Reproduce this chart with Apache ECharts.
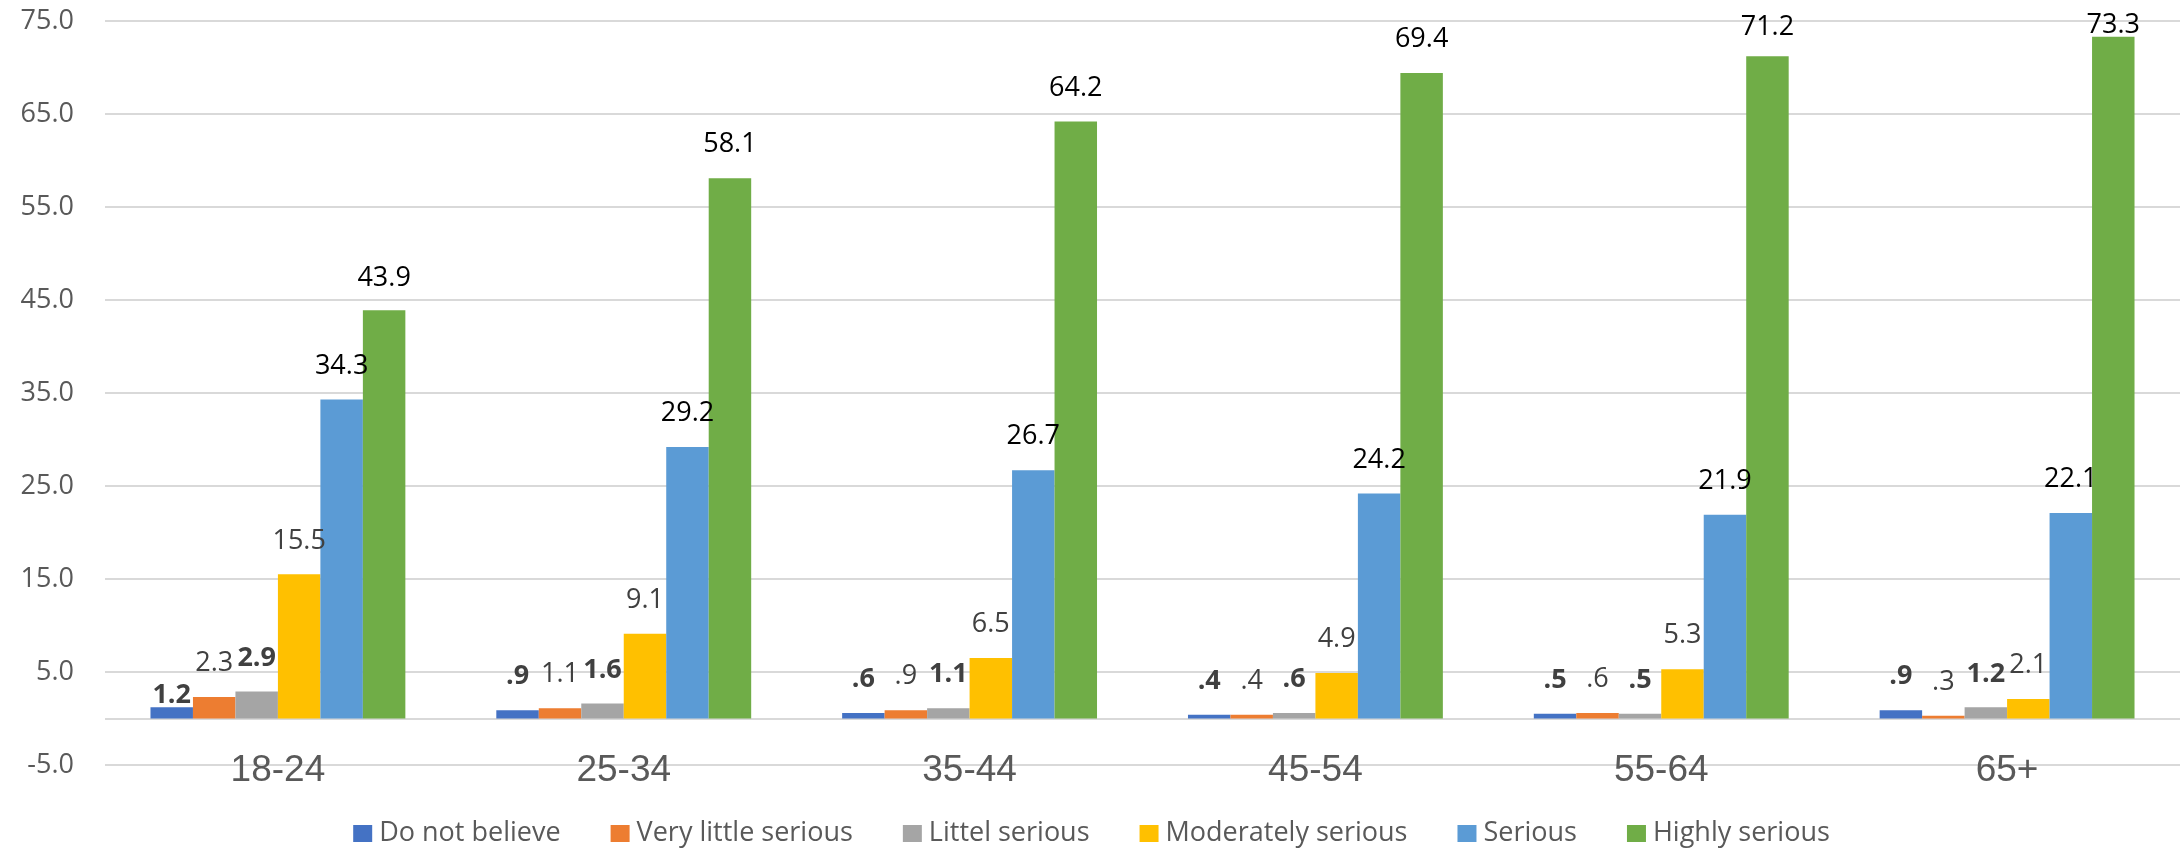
<!DOCTYPE html>
<html>
<head>
<meta charset="utf-8">
<script src="https://cdn.jsdelivr.net/npm/echarts@6/dist/echarts.min.js"></script>
<style>
html,body{margin:0;padding:0;background:#fff;}
#chart{width:2183px;height:848px;}
</style>
</head>
<body>
<div id="chart"></div>
<script>
const categories = ['18-24', '25-34', '35-44', '45-54', '55-64', '65+'];
const seriesNames = ['Do not believe', 'Very little serious', 'Littel serious', 'Moderately serious', 'Serious', 'Highly serious'];
const doNotBelieve = [1.2, 0.9, 0.6, 0.4, 0.5, 0.9];
const veryLittleSerious = [2.3, 1.1, 0.9, 0.4, 0.6, 0.3];
const littelSerious = [2.9, 1.6, 1.1, 0.6, 0.5, 1.2];
const moderatelySerious = [15.5, 9.1, 6.5, 4.9, 5.3, 2.1];
const serious = [34.3, 29.2, 26.7, 24.2, 21.9, 22.1];
const highlySerious = [43.9, 58.1, 64.2, 69.4, 71.2, 73.3];
const axisMin = -5;
const axisMax = 75;

const seriesValues = [doNotBelieve, veryLittleSerious, littelSerious, moderatelySerious, serious, highlySerious];
const colors = ['#4472C4', '#ED7D31', '#A5A5A5', '#FFC000', '#5B9BD5', '#70AD47'];
const labelStyles = [
  {color: '#404040', fontWeight: 'bold'},
  {color: '#404040', fontWeight: 'normal'},
  {color: '#404040', fontWeight: 'bold'},
  {color: '#404040', fontWeight: 'normal'},
  {color: '#000000', fontWeight: 'normal'},
  {color: '#000000', fontWeight: 'normal'}
];
const labelDistanceOverrides = {'0,0': -1, '5,5': -2, '5,4': 16, '5,0': 18};

function fmt(v) {
  return v.toFixed(1).replace(/^0\./, '.');
}

const series = seriesValues.map((vals, s) => {
  const o = {
    name: seriesNames[s],
    type: 'bar',
    yAxisIndex: 1,
    barGap: '0%',
    barCategoryGap: '26.3%',
    itemStyle: {color: colors[s]},
    label: {
      show: true,
      position: 'top',
      distance: 20,
      fontFamily: 'Open Sans',
      fontSize: 27,
      color: labelStyles[s].color,
      fontWeight: labelStyles[s].fontWeight,
      formatter: p => fmt(p.value)
    },
    data: vals.map((v, i) => {
      const d = {value: v};
      const k = s + ',' + i;
      if (k in labelDistanceOverrides) d.label = {distance: labelDistanceOverrides[k]};
      return d;
    })
  };
  if (s === 0) {
    o.markLine = {
      silent: true,
      symbol: 'none',
      z: 1,
      label: {show: false},
      lineStyle: {color: '#d9d9d9', width: 2, type: 'solid'},
      data: [{yAxis: 0}]
    };
  }
  return o;
});

const chart = echarts.init(document.getElementById('chart'), null, {renderer: 'canvas'});
chart.setOption({
  backgroundColor: '#ffffff',
  animation: false,
  color: colors,
  grid: {left: 105, right: 3, top: 21, bottom: 83, containLabel: false},
  legend: {
    data: seriesNames,
    left: 'center',
    top: 815,
    itemWidth: 19,
    itemHeight: 17,
    itemGap: 50,
    icon: 'rect',
    textStyle: {fontFamily: 'Open Sans', fontSize: 27, color: '#595959', padding: [0, 0, 0, 2]}
  },
  xAxis: {
    type: 'category',
    data: categories,
    axisLine: {show: false, onZero: false},
    axisTick: {show: false},
    axisLabel: {fontFamily: 'Liberation Sans, Arial', fontSize: 37, color: '#595959', margin: -13}
  },
  yAxis: [
    {
      type: 'value',
      min: 0,
      max: axisMax - axisMin,
      interval: 10,
      axisLine: {show: false},
      axisTick: {show: false},
      splitLine: {show: true, lineStyle: {color: '#d9d9d9', width: 2}},
      axisLabel: {
        fontFamily: 'Open Sans', fontSize: 27, color: '#595959', margin: 31,
        formatter: v => (v + axisMin).toFixed(1)
      }
    },
    {
      type: 'value',
      min: axisMin,
      max: axisMax,
      show: false,
      splitLine: {show: false}
    }
  ],
  series: series
});
</script>
</body>
</html>
